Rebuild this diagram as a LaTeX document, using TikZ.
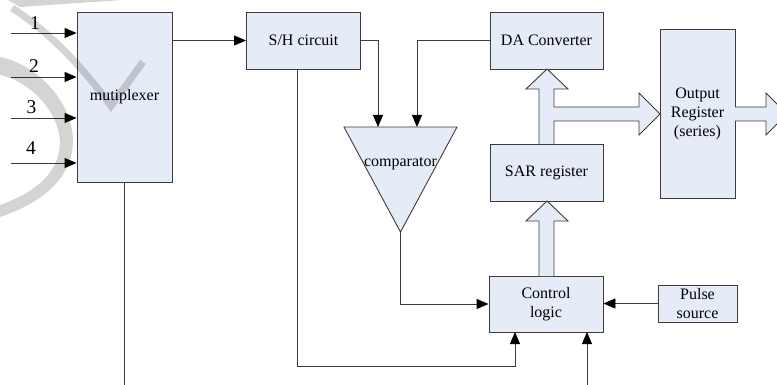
\documentclass[tikz,border=0pt]{standalone}
\usepackage{fontspec}
\setmainfont{Liberation Serif}
\usetikzlibrary{arrows.meta}
\definecolor{boxfill}{RGB}{230,236,247}
\definecolor{edge}{RGB}{60,60,60}
\begin{document}
\begin{tikzpicture}[x=1pt,y=-1pt,
  txt/.style={font=\fontsize{16}{19}\selectfont,text=black,align=center,inner sep=0pt},
  numlbl/.style={font=\fontsize{19.5}{22}\selectfont,text=black,inner sep=0pt},
  blk/.style={txt,draw=edge,fill=boxfill,line width=0.9pt},
  wire/.style={draw=edge,line width=0.9pt},
  arr/.style={wire,-{Triangle[length=12pt,width=10pt,fill=black,color=black]}},
  hollow/.style={draw=edge,fill=boxfill,line width=0.9pt,line join=miter},
  wm/.style={fill=black,opacity=0.17}]
\useasboundingbox (0,0) rectangle (777,385);
\clip (0,0) rectangle (777,385);

% blocks
\node[blk,minimum width=95pt,minimum height=170pt] (mux) at (124.5,97) {mutiplexer};
\node[blk,minimum width=114pt,minimum height=57pt] (sh) at (303.5,40.5) {S/H circuit};
\node[blk,minimum width=113pt,minimum height=57pt] (da) at (546.5,40.5) {DA Converter};
\node[blk,minimum width=113pt,minimum height=57pt] (sar) at (546.5,172.5) {SAR register};
\node[blk,minimum width=75pt,minimum height=169pt] (outreg) at (697.5,113.5) {Output\\Register\\(series)};
\node[blk,minimum width=114pt,minimum height=56pt] (ctrl) at (546,304) {Control\\logic};
\node[blk,minimum width=79pt,minimum height=37pt] (pulse) at (697.5,303.5) {Pulse\\source};

% comparator
\coordinate (cmpA) at (344,127);
\coordinate (cmpB) at (457,127);
\coordinate (cmpC) at (400.5,232);
\draw[hollow] (cmpA) -- (cmpB) -- (cmpC) -- cycle;
\node[txt] (cmplbl) at (400.5,164) {comparator};

% inputs to multiplexer
\coordinate (in1) at (11,33);
\coordinate (in2) at (11,77);
\coordinate (in3) at (11,118);
\coordinate (in4) at (11,163);
\draw[arr] (in1) -- (in1 -| mux.west);
\draw[arr] (in2) -- (in2 -| mux.west);
\draw[arr] (in3) -- (in3 -| mux.west);
\draw[arr] (in4) -- (in4 -| mux.west);
\node[numlbl] (l1) at (35,23) {1};
\node[numlbl] (l2) at (34,66.5) {2};
\node[numlbl] (l3) at (31.5,107.5) {3};
\node[numlbl] (l4) at (31,148.5) {4};

% signal connectors
\draw[arr] (mux.east |- sh.west) -- (sh.west);
\coordinate (cmpin1) at (378,127);
\coordinate (cmpin2) at (417,127);
\draw[arr] (sh.east) -| (cmpin1);
\draw[arr] (da.west) -| (cmpin2);
\draw[arr] (cmpC) |- (ctrl.west);
\draw[arr] (pulse.west) -- (pulse.west -| ctrl.east);

\coordinate (shout) at (297,69);
\coordinate (lowrun) at (297,366);
\coordinate (ctrlb1) at (515,332);
\draw[arr] (shout) -- (lowrun) -| (ctrlb1);

\coordinate (extin) at (587,385);
\coordinate (ctrlb2) at (587,332);
\draw[arr] (extin) -- (ctrlb2);

\coordinate (muxout) at (124.5,385);
\draw[wire] (mux.south) -- (muxout);

% hollow bus arrows
\draw[hollow] (539,144) -- (539,89) -- (526,89) -- (547,69) -- (568,89) -- (554,89)
  -- (554,107) -- (639,107) -- (639,93) -- (660,114) -- (639,135) -- (639,121)
  -- (554,121) -- (554,144);
\draw[hollow] (539,276) -- (539,221) -- (526,221) -- (547,201) -- (568,221) -- (554,221) -- (554,276);
\draw[hollow] (735,107) -- (766,107) -- (766,93) -- (787,114) -- (766,135) -- (766,121) -- (735,121);

% watermark
\fill[wm] (8,0) -- (122,0) -- (20,7) -- cycle;
\draw[black,opacity=0.17,line width=7pt] (12,8) .. controls (50,32) and (85,70) .. (111,106) -- (143,62);
\fill[wm] (0,57) .. controls (65,70) and (125,175) .. (0,217) -- (0,205)
  .. controls (105,168) and (50,85) .. (0,75) -- cycle;
\end{tikzpicture}
\end{document}
